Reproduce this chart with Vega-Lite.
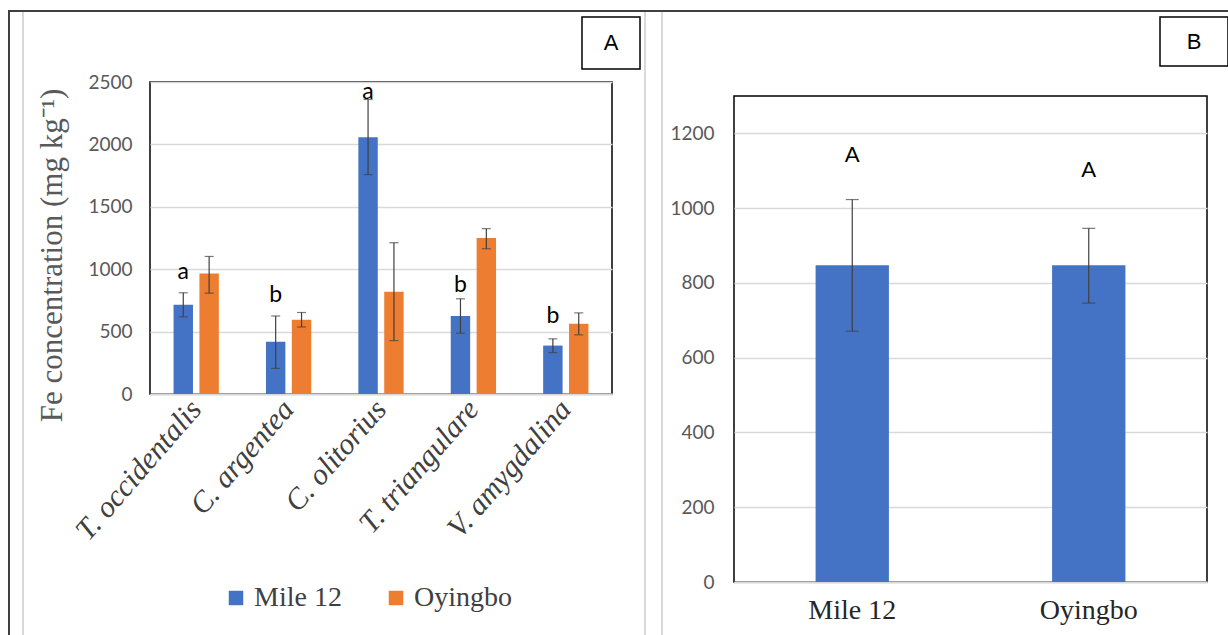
{
  "$schema": "https://vega.github.io/schema/vega-lite/v6.json",
  "padding": {"left": 8, "top": 10, "right": 0, "bottom": 0},
  "background": "white",
  "bounds": "flush",
  "spacing": 0,
  "datasets": {
    "fe": [
      {"species": "T. occidentalis", "site": "Mile 12", "mean": 715, "lo": 618, "hi": 811, "letter": "a", "letter_at": 977},
      {"species": "T. occidentalis", "site": "Oyingbo", "mean": 965, "lo": 808, "hi": 1102},
      {"species": "C. argentea", "site": "Mile 12", "mean": 418, "lo": 205, "hi": 625, "letter": "b", "letter_at": 790},
      {"species": "C. argentea", "site": "Oyingbo", "mean": 595, "lo": 537, "hi": 653},
      {"species": "C. olitorius", "site": "Mile 12", "mean": 2058, "lo": 1758, "hi": 2360, "letter": "a", "letter_at": 2422},
      {"species": "C. olitorius", "site": "Oyingbo", "mean": 820, "lo": 428, "hi": 1212},
      {"species": "T. triangulare", "site": "Mile 12", "mean": 625, "lo": 487, "hi": 763, "letter": "b", "letter_at": 870},
      {"species": "T. triangulare", "site": "Oyingbo", "mean": 1250, "lo": 1164, "hi": 1325},
      {"species": "V. amygdalina", "site": "Mile 12", "mean": 388, "lo": 332, "hi": 442, "letter": "b", "letter_at": 629},
      {"species": "V. amygdalina", "site": "Oyingbo", "mean": 562, "lo": 474, "hi": 650}
    ],
    "site": [
      {"site": "Mile 12", "mean": 847, "lo": 671, "hi": 1023, "letter": "A", "letter_at": 1143},
      {"site": "Oyingbo", "mean": 847, "lo": 746, "hi": 946, "letter": "A", "letter_at": 1101}
    ],
    "blank": [{"t": ""}],
    "boxA": [{"t": "A"}],
    "boxB": [{"t": "B"}]
  },
  "vconcat": [
    {"width": 1220, "height": 2, "data": {"name": "blank"}, "mark": {"type": "point", "size": 0, "opacity": 0}, "view": {"fill": "#404040", "stroke": null}},
    {
      "bounds": "flush",
      "spacing": 0,
      "hconcat": [
        {"width": 2, "height": 623, "data": {"name": "blank"}, "mark": {"type": "point", "size": 0, "opacity": 0}, "view": {"fill": "#404040", "stroke": null}},
        {"width": 12, "height": 10, "data": {"name": "blank"}, "mark": {"type": "point", "size": 0, "opacity": 0}},
        {"width": 2, "height": 623, "data": {"name": "blank"}, "mark": {"type": "point", "size": 0, "opacity": 0}, "view": {"fill": "#d9d9d9", "stroke": null}},
        {
          "bounds": "flush",
          "spacing": 0,
          "vconcat": [
            {"width": 10, "height": 5, "data": {"name": "blank"}, "mark": {"type": "point", "size": 0, "opacity": 0}},
            {
              "bounds": "flush",
              "spacing": 0,
              "hconcat": [
                {"width": 558, "height": 52, "data": {"name": "blank"}, "mark": {"type": "point", "size": 0, "opacity": 0}},
                {"width": 58, "height": 52, "data": {"name": "boxA"}, "mark": {"type": "text", "font": "Liberation Sans", "fontSize": 22, "color": "#000000"}, "encoding": {"text": {"field": "t"}}, "view": {"stroke": "#000000", "strokeWidth": 1.5}}
              ]
            },
            {"width": 10, "height": 65, "data": {"name": "blank"}, "mark": {"type": "point", "size": 0, "opacity": 0}},
            {
              "bounds": "flush",
              "spacing": 0,
              "hconcat": [
                {"width": 126, "height": 10, "data": {"name": "blank"}, "mark": {"type": "point", "size": 0, "opacity": 0}},
                {
                  "width": 462,
                  "height": 312,
                  "view": {"stroke": "#000000", "strokeWidth": 1.5},
                  "data": {"name": "fe"},
                  "encoding": {
                    "x": {
                      "field": "species", "type": "nominal", "sort": null,
                      "scale": {"paddingInner": 0.51, "paddingOuter": 0.255},
                      "axis": {"title": null, "labelAngle": -49, "labelFont": "Liberation Serif", "labelFontStyle": "italic", "labelFontSize": 30, "labelColor": "#404040", "labelPadding": 10, "ticks": false, "domainColor": "#d9d9d9", "domainWidth": 2}
                    },
                    "xOffset": {"field": "site", "type": "nominal", "scale": {"paddingInner": 0.25, "paddingOuter": 0}}
                  },
                  "layer": [
                    {
                      "mark": {"type": "bar"},
                      "encoding": {
                        "y": {
                          "field": "mean", "type": "quantitative",
                          "scale": {"domain": [0, 2500], "nice": false},
                          "axis": {"title": "Fe concentration (mg kg⁻¹)", "titleFont": "Liberation Serif", "titleFontSize": 31, "titleFontWeight": "normal", "titleColor": "#595959", "titlePadding": 19, "titleY": 173, "values": [0, 500, 1000, 1500, 2000, 2500], "format": "d", "labelFont": "Lato", "labelFontSize": 19, "labelColor": "#595959", "labelPadding": 18, "ticks": false, "domain": false, "gridColor": "#d9d9d9", "gridWidth": 1.5}
                        },
                        "color": {
                          "field": "site", "type": "nominal",
                          "scale": {"domain": ["Mile 12", "Oyingbo"], "range": ["#4472C4", "#ED7D31"]},
                          "legend": {"title": null, "orient": "none", "legendX": 214, "legendY": 574, "direction": "horizontal", "symbolType": "square", "symbolSize": 210, "symbolStrokeWidth": 0, "labelFont": "Liberation Serif, serif", "labelFontSize": 28, "labelColor": "#404040", "columnPadding": 40, "labelOffset": 4}
                        }
                      }
                    },
                    {
                      "mark": {"type": "rule", "color": "#404040", "strokeWidth": 1.2},
                      "encoding": {"y": {"field": "lo", "type": "quantitative"}, "y2": {"field": "hi"}}
                    },
                    {
                      "mark": {"type": "tick", "color": "#404040", "size": 9, "thickness": 1.2},
                      "encoding": {"y": {"field": "lo", "type": "quantitative"}}
                    },
                    {
                      "mark": {"type": "tick", "color": "#404040", "size": 9, "thickness": 1.2},
                      "encoding": {"y": {"field": "hi", "type": "quantitative"}}
                    },
                    {
                      "transform": [{"filter": "datum.letter"}],
                      "mark": {"type": "text", "font": "Lato", "fontSize": 23, "color": "#000000", "baseline": "middle"},
                      "encoding": {"y": {"field": "letter_at", "type": "quantitative"}, "text": {"field": "letter"}}
                    }
                  ]
                }
              ]
            }
          ]
        },
        {"width": 620, "height": 10, "data": {"name": "blank"}, "mark": {"type": "point", "size": 0, "opacity": 0}},
        {"width": 2, "height": 623, "data": {"name": "blank"}, "mark": {"type": "point", "size": 0, "opacity": 0}, "view": {"fill": "#d9d9d9", "stroke": null}},
        {"width": 15, "height": 10, "data": {"name": "blank"}, "mark": {"type": "point", "size": 0, "opacity": 0}},
        {"width": 2, "height": 623, "data": {"name": "blank"}, "mark": {"type": "point", "size": 0, "opacity": 0}, "view": {"fill": "#d9d9d9", "stroke": null}},
        {
          "bounds": "flush",
          "spacing": 0,
          "vconcat": [
            {"width": 10, "height": 5, "data": {"name": "blank"}, "mark": {"type": "point", "size": 0, "opacity": 0}},
            {
              "bounds": "flush",
              "spacing": 0,
              "hconcat": [
                {"width": 497, "height": 49, "data": {"name": "blank"}, "mark": {"type": "point", "size": 0, "opacity": 0}},
                {"width": 68, "height": 49, "data": {"name": "boxB"}, "mark": {"type": "text", "font": "Liberation Sans", "fontSize": 22, "color": "#000000"}, "encoding": {"text": {"field": "t"}}, "view": {"stroke": "#000000", "strokeWidth": 1.5}}
              ]
            },
            {"width": 10, "height": 79, "data": {"name": "blank"}, "mark": {"type": "point", "size": 0, "opacity": 0}},
            {
              "bounds": "flush",
              "spacing": 0,
              "hconcat": [
                {"width": 71, "height": 10, "data": {"name": "blank"}, "mark": {"type": "point", "size": 0, "opacity": 0}},
                {
                  "width": 473,
                  "height": 486,
                  "view": {"stroke": "#000000", "strokeWidth": 1.5},
                  "data": {"name": "site"},
                  "encoding": {
                    "x": {
                      "field": "site", "type": "nominal", "sort": null,
                      "scale": {"paddingInner": 0.69, "paddingOuter": 0.345},
                      "axis": {"title": null, "labelAngle": 0, "labelFont": "Liberation Serif", "labelFontSize": 28, "labelColor": "#262626", "labelPadding": 14, "ticks": false, "domainColor": "#d9d9d9", "domainWidth": 2}
                    }
                  },
                  "layer": [
                    {
                      "mark": {"type": "bar", "color": "#4472C4"},
                      "encoding": {
                        "y": {
                          "field": "mean", "type": "quantitative",
                          "scale": {"domain": [0, 1300], "nice": false},
                          "axis": {"title": null, "values": [0, 200, 400, 600, 800, 1000, 1200], "format": "d", "labelFont": "Lato", "labelFontSize": 19, "labelColor": "#595959", "labelPadding": 20, "ticks": false, "domain": false, "gridColor": "#d9d9d9", "gridWidth": 1.5}
                        }
                      }
                    },
                    {
                      "mark": {"type": "rule", "color": "#404040", "strokeWidth": 1.2},
                      "encoding": {"y": {"field": "lo", "type": "quantitative"}, "y2": {"field": "hi"}}
                    },
                    {
                      "mark": {"type": "tick", "color": "#404040", "size": 13, "thickness": 1.2},
                      "encoding": {"y": {"field": "lo", "type": "quantitative"}}
                    },
                    {
                      "mark": {"type": "tick", "color": "#404040", "size": 13, "thickness": 1.2},
                      "encoding": {"y": {"field": "hi", "type": "quantitative"}}
                    },
                    {
                      "mark": {"type": "text", "font": "Lato", "fontSize": 22, "color": "#000000", "baseline": "middle"},
                      "encoding": {"y": {"field": "letter_at", "type": "quantitative"}, "text": {"field": "letter"}}
                    }
                  ]
                }
              ]
            }
          ]
        }
      ]
    }
  ],
  "config": {
    "view": {"stroke": null},
    "legend": {"labelFont": "Liberation Serif, serif", "labelFontSize": 28},
    "style": {"guide-label": {"font": "Liberation Serif"}}
  }
}
